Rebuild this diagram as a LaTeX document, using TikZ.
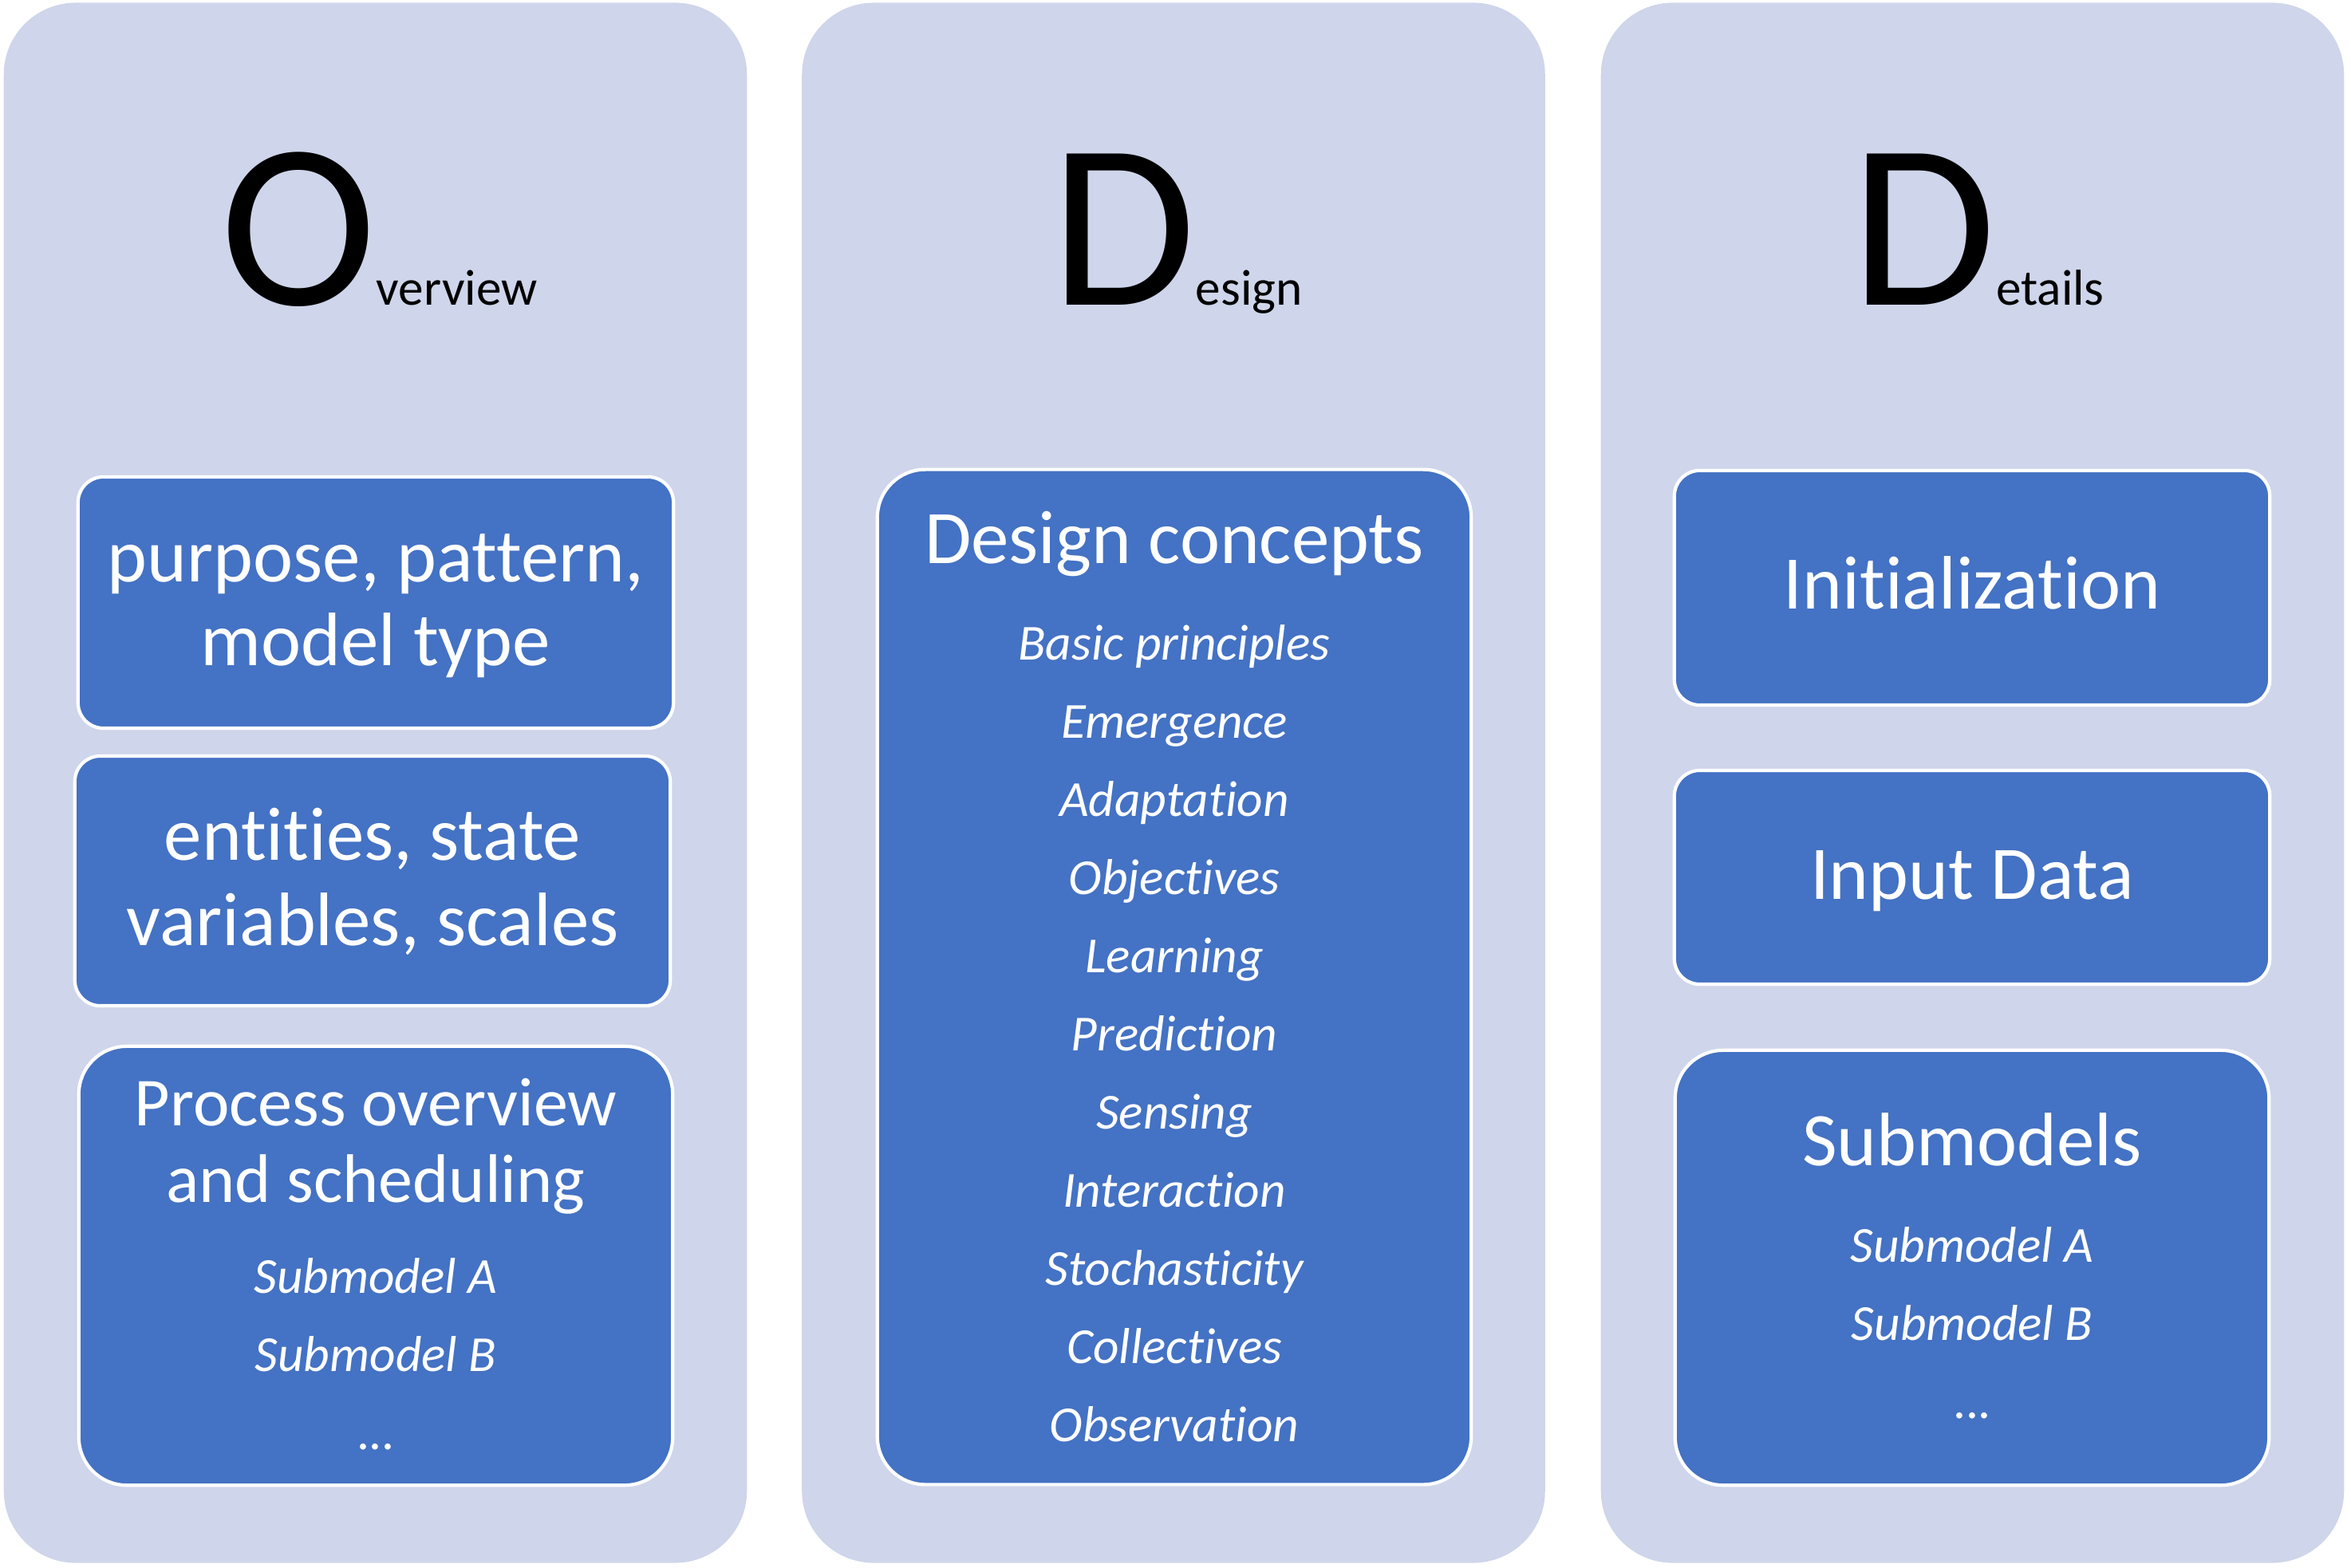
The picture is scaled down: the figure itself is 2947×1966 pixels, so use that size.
\documentclass[tikz,border=0pt]{standalone}
\usepackage{fontspec}
\setmainfont{Carlito}[RawFeature={-liga;-clig;-calt;-dlig}]
\usepackage{tikz}
\usetikzlibrary{positioning}

\definecolor{panelbg}{HTML}{CFD5EA}
\definecolor{boxblue}{HTML}{4472C4}

\tikzset{
  panel/.style={fill=panelbg, draw=none, rounded corners=0.9cm, minimum width=9.31cm, minimum height=19.55cm, inner sep=0pt},
  bluebox/.style={fill=boxblue, draw=white, line width=1.2pt, rounded corners=0.32cm, inner sep=0pt, minimum width=7.46cm},
  bigbox/.style={bluebox, rounded corners=0.6cm, minimum width=7.44cm},
  headline/.style={text=white, anchor=base, inner sep=0pt, font=\fontsize{27}{30}\selectfont},
  item/.style={text=white, anchor=base, inner sep=0pt, font=\fontsize{18}{20}\selectfont\itshape},
  letter/.style={anchor=base, inner sep=0pt}
}
\newcommand{\bigL}[2]{{\fontsize{84}{84}\selectfont #1}{\fontsize{18}{20}\selectfont #2}}

\begin{document}
\begin{tikzpicture}[x=0.01cm, y=-0.01cm]
\useasboundingbox (0,0) rectangle (2947,1966);

% three columns
\node[panel] (pnlO) at (470.5,981.5) {};
\node[panel] (pnlD) at (1471,981.5) {};
\node[panel] (pnlDt) at (2472.5,981.5) {};

% headers
\node[letter] (hdrO) at (475,382) {\bigL{O}{verview}};
\node[letter] (hdrD) at (1475,382) {\bigL{D}{esign}};
\node[letter] (hdrDt) at (2479,382) {\bigL{D}{etails}};

% Overview
\node[bluebox, minimum height=3.15cm] (purp) at (471,755.5) {};
\node[headline] (purp1) at (471,729) {purpose, pattern,};
\node[headline] (purp2) at (471,834) {model type};

\node[bluebox, minimum height=3.13cm] (ent) at (467,1104.5) {};
\node[headline] (ent1) at (467,1078) {entities, state};
\node[headline] (ent2) at (467,1185) {variables, scales};

\node[bigbox, minimum height=5.5cm] (proc) at (471,1587) {};
\node[headline, font=\fontsize{24.5}{28}\selectfont] (proc1) at (471,1411) {Process overview};
\node[headline, font=\fontsize{24.5}{28}\selectfont] (proc2) at (471,1507) {and scheduling};
\node[item] (procA) at (471,1621) {Submodel A};
\node[item] (procB) at (471,1719) {Submodel B};
\node[item, font=\fontsize{18}{20}\selectfont] (procC) at (471,1817) {...};

% Design
\node[bigbox, minimum height=12.72cm] (dc) at (1472,1225) {};
\node[headline] (dctitle) at (1472,706) {Design concepts};
\foreach \name [count=\i from 0] in {Basic principles, Emergence, Adaptation, Objectives, Learning, Prediction, Sensing, Interaction, Stochasticity, Collectives, Observation}
  \node[item] (dc\i) at (1472,{827+98*\i}) {\name};

% Details
\node[bluebox, minimum height=2.94cm] (init) at (2472,737) {};
\node[headline] (init1) at (2472,763) {Initialization};

\node[bluebox, minimum height=2.68cm] (inp) at (2472,1100) {};
\node[headline] (inp1) at (2472,1127) {Input Data};

\node[bigbox, minimum height=5.45cm] (subm) at (2472,1589.5) {};
\node[headline] (subm1) at (2472,1461) {Submodels};
\node[item] (submA) at (2472,1582) {Submodel A};
\node[item] (submB) at (2472,1680) {Submodel B};
\node[item, font=\fontsize{18}{20}\selectfont] (submC) at (2472,1778) {...};
\end{tikzpicture}
\end{document}
